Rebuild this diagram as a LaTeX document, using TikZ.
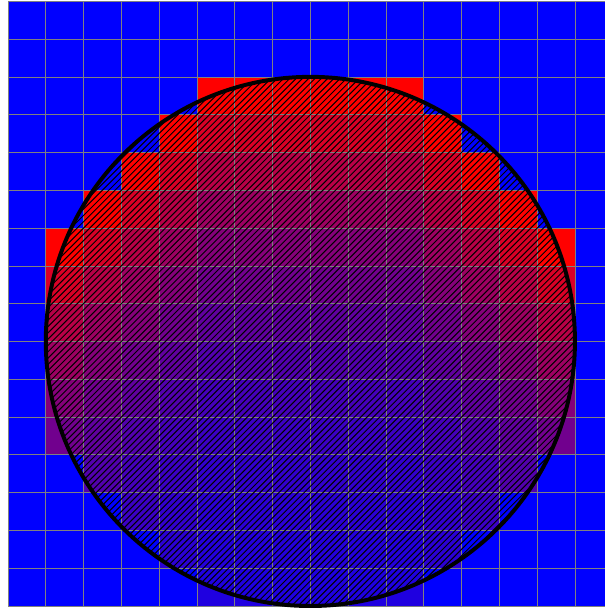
\documentclass[tikz,border=0pt]{standalone}
\tikzset{
  gridline/.style={draw=gray, line width=0.5pt},
  hatchline/.style={draw=black, line width=0.75pt},
  outline/.style={draw=black, line width=3pt}
}
\begin{document}
\begin{tikzpicture}
\useasboundingbox (-0.212,-0.106) rectangle (15.794,16.034);
% background
\fill[blue] (0,0) rectangle (16,16);
% rasterised cells: column / top row / bottom row (rows counted from the top)
\foreach \c/\t/\b in {1/6/11, 2/5/12, 3/4/13, 4/3/14, 5/2/15, 6/2/15, 7/2/15, 8/2/15, 9/2/15, 10/2/15, 11/3/14, 12/4/13, 13/5/12, 14/6/11} {
  \foreach \r in {\t,...,\b} {
    \pgfmathsetmacro\p{100*0.85^(\r-\t)}
    \fill[red!\p!blue] (\c,15-\r) rectangle ++(1,1);
  }
}
% grid
\draw[gridline] (0,0) grid (16,16);
% hatched disc
\begin{scope}
  \clip (8,7) circle (7);
  \foreach \i in {-102,...,96} {
    \draw[hatchline] ({\i*0.1667},-1) -- ++(17,17);
  }
\end{scope}
\draw[outline] (8,7) circle (7);
\end{tikzpicture}
\end{document}
